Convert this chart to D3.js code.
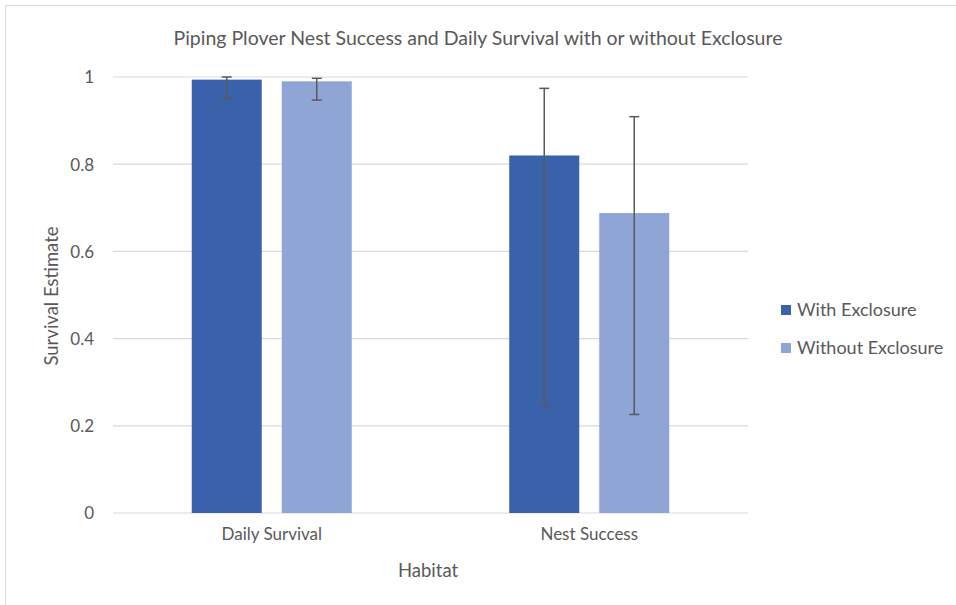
<!DOCTYPE html>
<html><head><meta charset="utf-8">
<script src="https://cdn.jsdelivr.net/npm/d3@7"></script>
<style>body{margin:0;background:#fff;} text{font-family:Lato, "Open Sans", sans-serif;fill:#595959;}</style>
</head><body>
<svg id="c" width="956" height="605"></svg>
<script>
const categories = ["Daily Survival", "Nest Success"];
const seriesNames = ["With Exclosure", "Without Exclosure"];
const withValues = [0.994, 0.820];
const withoutValues = [0.990, 0.688];
const withLow = [0.951, 0.245];
const withHigh = [1.000, 0.974];
const withoutLow = [0.947, 0.226];
const withoutHigh = [0.997, 0.909];
const yTicks = [0, 0.2, 0.4, 0.6, 0.8, 1];
const colors = ["#3a62aa", "#8fa5d5"];

const svg = d3.select("#c");
svg.append("rect").attr("x",5.5).attr("y",5.5).attr("width",960).attr("height",610)
  .attr("fill","none").attr("stroke","#d9d9d9");

const x0 = d3.scaleBand().domain(categories).range([113, 748]);
const x1 = d3.scaleBand().domain(seriesNames).range([0, 160]).paddingInner(2/9);
const y = d3.scaleLinear().domain([0, 1]).range([513, 77]);

svg.append("g").selectAll("line").data(yTicks).join("line")
  .attr("x1",113).attr("x2",748).attr("y1",d=>y(d)).attr("y2",d=>y(d))
  .attr("stroke","#d9d9d9").attr("stroke-width",1.2);

const yAxis = d3.axisLeft(y).tickValues(yTicks).tickSize(0).tickPadding(0).tickFormat(d3.format("~g"));
const ya = svg.append("g").attr("transform","translate(94,0)").call(yAxis);
ya.select(".domain").remove();
ya.selectAll("text").style("font-size","17px").attr("fill","#595959").attr("dy","0.35em");

const xAxis = d3.axisBottom(x0).tickSize(0).tickPadding(0);
const xa = svg.append("g").attr("transform","translate(0,528)").call(xAxis);
xa.select(".domain").remove();
xa.selectAll("text").style("font-size","17px").attr("fill","#595959").attr("dy","0.71em");

const data = [];
categories.forEach((c,i)=>{
  data.push({cat:c, s:seriesNames[0], v:withValues[i], lo:withLow[i], hi:withHigh[i], col:colors[0]});
  data.push({cat:c, s:seriesNames[1], v:withoutValues[i], lo:withoutLow[i], hi:withoutHigh[i], col:colors[1]});
});
const off = (x0.bandwidth() - 160)/2;
const bx = d => x0(d.cat) + off + x1(d.s);

svg.append("g").selectAll("rect").data(data).join("rect")
  .attr("x",bx).attr("y",d=>y(d.v)).attr("width",x1.bandwidth()).attr("height",d=>y(0)-y(d.v))
  .attr("fill",d=>d.col);

const eb = svg.append("g").attr("stroke","#595959").attr("stroke-width",1.5);
data.forEach(d=>{
  const cx = bx(d) + x1.bandwidth()/2;
  eb.append("line").attr("x1",cx).attr("x2",cx).attr("y1",y(d.hi)).attr("y2",y(d.lo));
  eb.append("line").attr("x1",cx-5).attr("x2",cx+5).attr("y1",y(d.hi)).attr("y2",y(d.hi));
  eb.append("line").attr("x1",cx-5).attr("x2",cx+5).attr("y1",y(d.lo)).attr("y2",y(d.lo));
});

svg.append("text").attr("x",478).attr("y",45).attr("text-anchor","middle")
  .style("font-size","19.5px").text("Piping Plover Nest Success and Daily Survival with or without Exclosure");
svg.append("text").attr("x",428).attr("y",577).attr("text-anchor","middle")
  .style("font-size","18.5px").text("Habitat");
svg.append("text").attr("transform","translate(58,296) rotate(-90)").attr("text-anchor","middle")
  .style("font-size","18.5px").text("Survival Estimate");

const lg = svg.append("g");
seriesNames.forEach((n,i)=>{
  const yy = 310 + i*38;
  lg.append("rect").attr("x",781).attr("y",yy-5).attr("width",10).attr("height",10).attr("fill",colors[i]);
  lg.append("text").attr("x",797).attr("y",yy).attr("dy","0.35em").style("font-size","18px").text(n);
});
</script>
</body></html>
